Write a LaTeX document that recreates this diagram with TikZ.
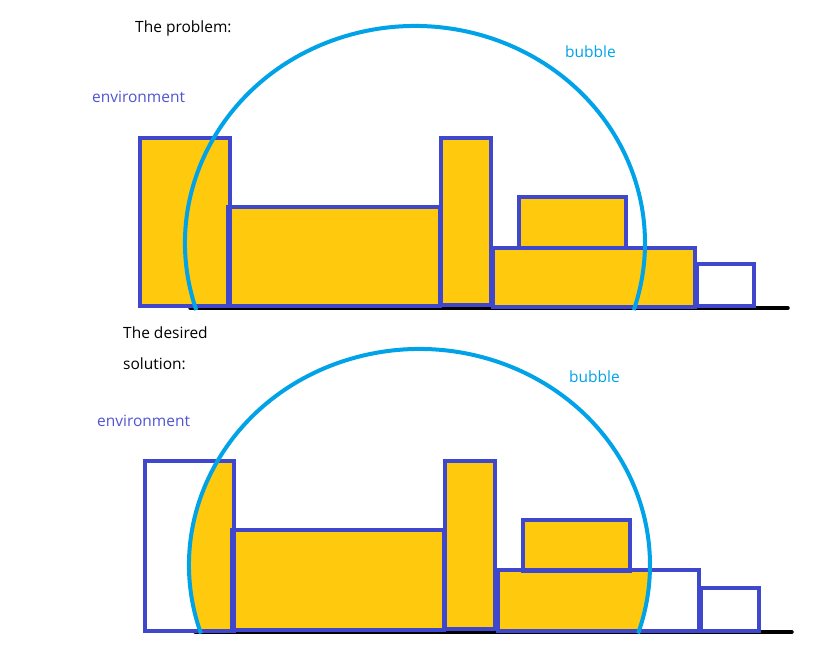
\documentclass[tikz,border=0pt]{standalone}
\usepackage{fontspec}
\setmainfont{Open Sans}
\definecolor{indig}{RGB}{63,72,204}
\definecolor{envtxt}{RGB}{80,84,210}
\definecolor{gold}{RGB}{255,201,14}
\definecolor{sky}{RGB}{0,162,232}
\begin{document}
\begin{tikzpicture}[x=1pt,y=-1pt,
  boxline/.style={draw=indig,line width=4pt},
  boxfill/.style={fill=gold},
  bubbleline/.style={draw=sky,line width=4pt},
  ground/.style={draw=black,line width=3.5pt,line cap=round},
  lbl/.style={inner sep=0pt,anchor=base west,font=\fontsize{15.5}{18}\selectfont},
  envlbl/.style={lbl,text=envtxt},
  bublbl/.style={lbl,text=sky}]
\useasboundingbox[fill=white] (0,0) rectangle (817,652);

% ---------------- top panel ----------------
\node[lbl] (t1) at (135,33) {The problem:};
\node[envlbl] (env1) at (92,103) {environment};
\node[bublbl] (bub1) at (565,58) {bubble};

\draw[ground] (190,308) -- (788,308);
\fill[boxfill] (140,138) rectangle (230,306);
\fill[boxfill] (228,207) rectangle (440,306);
\fill[boxfill] (441,138) rectangle (491,305);
\fill[boxfill] (493,248) rectangle (695,307);
\fill[boxfill] (519,197) rectangle (626,248);
\draw[boxline] (140,138) rectangle (230,306);
\draw[boxline] (228,207) rectangle (440,306);
\draw[boxline] (441,138) rectangle (491,305);
\draw[boxline] (493,248) rectangle (695,307);
\draw[boxline] (519,197) rectangle (626,248);
\draw[boxline] (697,264) rectangle (754,306);
\draw[bubbleline] ([shift={(162:230 and 217)}]415,243)
  arc[start angle=162,end angle=378,x radius=230,y radius=217];

% ---------------- bottom panel ----------------
\node[lbl] (t2) at (123,339) {The desired};
\node[lbl] (t3) at (123,370) {solution:};
\node[envlbl] (env2) at (97,426) {environment};
\node[bublbl] (bub2) at (569,382) {bubble};

\draw[ground] (195,632) -- (792,632);
\begin{scope}
  \clip (419.5,565) ellipse [x radius=230.5,y radius=216];
  \fill[boxfill] (145,461) rectangle (234,631);
  \fill[boxfill] (498,570) rectangle (699,631);
\end{scope}
\fill[boxfill] (232,530) rectangle (444,630);
\fill[boxfill] (445,461) rectangle (495,629);
\fill[boxfill] (523,520) rectangle (630,571);
\draw[boxline] (145,461) rectangle (234,631);
\draw[boxline] (232,530) rectangle (444,630);
\draw[boxline] (445,461) rectangle (495,629);
\draw[boxline] (498,570) rectangle (699,631);
\draw[boxline] (523,520) rectangle (630,571);
\draw[boxline] (701,588) rectangle (759,631);
\draw[bubbleline] ([shift={(161.5:230.5 and 216)}]419.5,565)
  arc[start angle=161.5,end angle=378.5,x radius=230.5,y radius=216];
\end{tikzpicture}
\end{document}
